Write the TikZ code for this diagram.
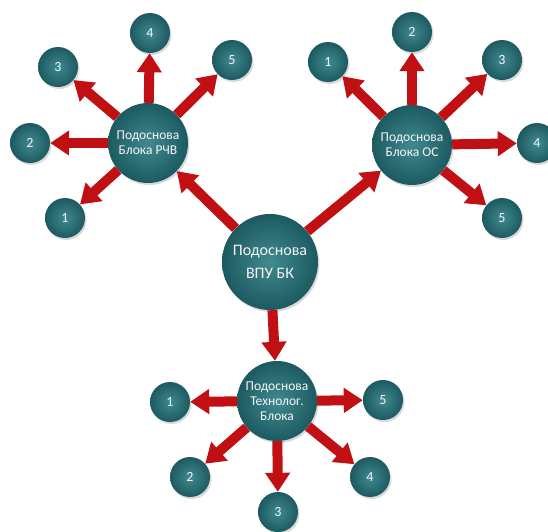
\documentclass[tikz,border=0pt]{standalone}
\usepackage{fontspec}
\setmainfont{Carlito}
\usetikzlibrary{arrows.meta,shadows}
\definecolor{tealdark}{RGB}{28,90,96}
\definecolor{teallight}{RGB}{64,138,143}
\definecolor{arrred}{RGB}{192,16,20}

\begin{document}
\begin{tikzpicture}[x=1pt,y=-1pt]
\tikzstyle{ball} = [circle, inner sep=0pt, align=center, text=white!92!gray, inner color=teallight, outer color=tealdark, drop shadow={opacity=0.3, shadow xshift=1.5pt, shadow yshift=-2pt}]
\tikzstyle{core} = [ball, minimum size=96pt, font=\fontsize{16}{23}\selectfont]
\tikzstyle{hub} = [ball, minimum size=80pt, font=\fontsize{13.5}{15}\selectfont]
\tikzstyle{leaf} = [ball, minimum size=40pt, font=\fontsize{14}{14}\selectfont]
\tikzstyle{link} = [arrred, line width=10pt, -{Triangle[length=19pt,width=24pt]}]
\useasboundingbox (0,0) rectangle (548,531);
% centre
\node[core] (vpu) at (270,262) {Подоснова\\ВПУ БК};
% block RChV
\node[hub] (rchv) at (148,143) {Подоснова\\Блока РЧВ};
\node[leaf] (rchv1) at (65,218) {1};
\node[leaf] (rchv2) at (30,143) {2};
\node[leaf] (rchv3) at (58,67) {3};
\node[leaf] (rchv4) at (150,33) {4};
\node[leaf] (rchv5) at (232,60) {5};
% block OS
\node[hub] (os) at (412,145) {Подоснова\\Блока ОС};
\node[leaf] (os1) at (328,62) {1};
\node[leaf] (os2) at (412,32) {2};
\node[leaf] (os3) at (502,60) {3};
\node[leaf] (os4) at (537,143) {4};
\node[leaf] (os5) at (502,218) {5};
% technolog. block
\node[hub] (tb) at (277,401) {Подоснова\\Технолог.\\Блока};
\node[leaf] (tb1) at (170,402) {1};
\node[leaf] (tb2) at (190,477) {2};
\node[leaf] (tb3) at (278,512) {3};
\node[leaf] (tb4) at (370,477) {4};
\node[leaf] (tb5) at (383,400) {5};
% arrows
\draw[link] (vpu) -- (rchv);
\draw[link] (vpu) -- (os);
\draw[link] (vpu) -- (tb);
\draw[link] (rchv) -- (rchv1);
\draw[link] (rchv) -- (rchv2);
\draw[link] (rchv) -- (rchv3);
\draw[link] (rchv) -- (rchv4);
\draw[link] (rchv) -- (rchv5);
\draw[link] (os) -- (os1);
\draw[link] (os) -- (os2);
\draw[link] (os) -- (os3);
\draw[link] (os) -- (os4);
\draw[link] (os) -- (os5);
\draw[link] (tb) -- (tb1);
\draw[link] (tb) -- (tb2);
\draw[link] (tb) -- (tb3);
\draw[link] (tb) -- (tb4);
\draw[link] (tb) -- (tb5);
\end{tikzpicture}
\end{document}
